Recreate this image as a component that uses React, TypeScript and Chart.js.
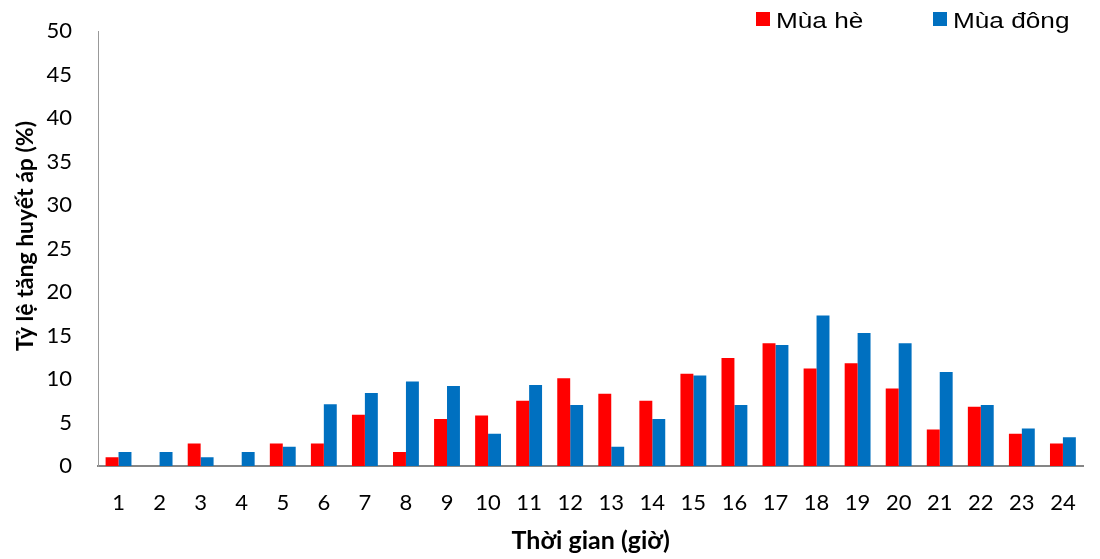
import React, { useEffect, useRef } from "react";
import Chart from "chart.js/auto";

const hours = ["1","2","3","4","5","6","7","8","9","10","11","12","13","14","15","16","17","18","19","20","21","22","23","24"];
const summer = [1.0, 0, 2.6, 0, 2.6, 2.6, 5.9, 1.6, 5.4, 5.8, 7.5, 10.1, 8.3, 7.5, 10.6, 12.4, 14.1, 11.2, 11.8, 8.9, 4.2, 6.8, 3.7, 2.6];
const winter = [1.6, 1.6, 1.0, 1.6, 2.2, 7.1, 8.4, 9.7, 9.2, 3.7, 9.3, 7.0, 2.2, 5.4, 10.4, 7.0, 13.9, 17.3, 15.3, 14.1, 10.8, 7.0, 4.3, 3.3];
const seriesLabels = ["Mùa hè", "Mùa đông"];
const seriesColors = ["#FF0000", "#0070C0"];
const yTitle = "Tỷ lệ tăng huyết áp (%)";
const xTitle = "Thời gian (giờ)";

const LEGEND_X = [756, 933];

const legendPlugin = {
  id: "topLegend",
  afterDraw(chart: any) {
    const ctx = chart.ctx;
    chart.data.datasets.forEach((ds: any, i: number) => {
      const x = LEGEND_X[i];
      ctx.save();
      ctx.fillStyle = ds.backgroundColor;
      ctx.fillRect(x, 12, 14, 14);
      ctx.translate(x + 20, 28);
      ctx.scale(1.19, 1);
      ctx.font = '22px "Liberation Sans", Arial, sans-serif';
      ctx.fillStyle = "#000";
      ctx.textBaseline = "alphabetic";
      ctx.textAlign = "left";
      ctx.fillText(ds.label, 0, 0);
      ctx.restore();
    });
    // y axis title
    ctx.save();
    ctx.translate(26, 236);
    ctx.rotate(-Math.PI / 2);
    ctx.font = 'bold 23px Lato, "Open Sans", sans-serif';
    ctx.fillStyle = "#000";
    ctx.textAlign = "center";
    ctx.textBaseline = "middle";
    ctx.fillText(yTitle, 0, 0);
    ctx.restore();
  },
};

export default function App() {
  const ref = useRef<HTMLCanvasElement | null>(null);
  useEffect(() => {
    if (!ref.current) return;
    const chart = new Chart(ref.current, {
      type: "bar",
      data: {
        labels: hours,
        datasets: [
          { label: seriesLabels[0], data: summer, backgroundColor: seriesColors[0], borderWidth: 0, categoryPercentage: 0.63, barPercentage: 1.0 },
          { label: seriesLabels[1], data: winter, backgroundColor: seriesColors[1], borderWidth: 0, categoryPercentage: 0.63, barPercentage: 1.0 },
        ],
      },
      options: {
        responsive: false,
        animation: false,
        devicePixelRatio: 1,
        layout: { padding: { top: 31, right: 16, left: 0, bottom: 0 } },
        plugins: {
          legend: { display: false },
          tooltip: { enabled: false },
        },
        scales: {
          x: {
            grid: { display: false, drawTicks: false, tickLength: 0 },
            border: { display: true, color: "#868686", width: 2 },
            ticks: {
              color: "#000",
              font: { family: "Lato, 'Open Sans', sans-serif", size: 22 },
              padding: 24,
              maxRotation: 0,
              autoSkip: false,
            },
            title: {
              display: true,
              text: xTitle,
              color: "#000",
              font: { family: "Lato, 'Open Sans', sans-serif", size: 25, weight: "bold" },
              padding: { top: 0, bottom: 3 },
            },
            afterFit(scale: any) {
              scale.height = 93;
            },
          },
          y: {
            min: 0,
            max: 50,
            grid: { display: false, drawTicks: false, tickLength: 0 },
            border: { display: true, color: "#999999", width: 1 },
            ticks: {
              stepSize: 5,
              color: "#000",
              font: { family: "Lato, 'Open Sans', sans-serif", size: 22 },
              padding: 26,
            },
            title: { display: false },
            afterFit(scale: any) {
              scale.width = 98;
              scale.paddingTop = 0;
              scale.paddingBottom = 0;
            },
          },
        },
      },
      plugins: [legendPlugin],
    });
    return () => chart.destroy();
  }, []);
  return (
    <div style={{ position: "absolute", left: 0, top: 0, width: 1100, height: 559, background: "#fff" }}>
      <canvas ref={ref} width={1100} height={559} />
    </div>
  );
}
